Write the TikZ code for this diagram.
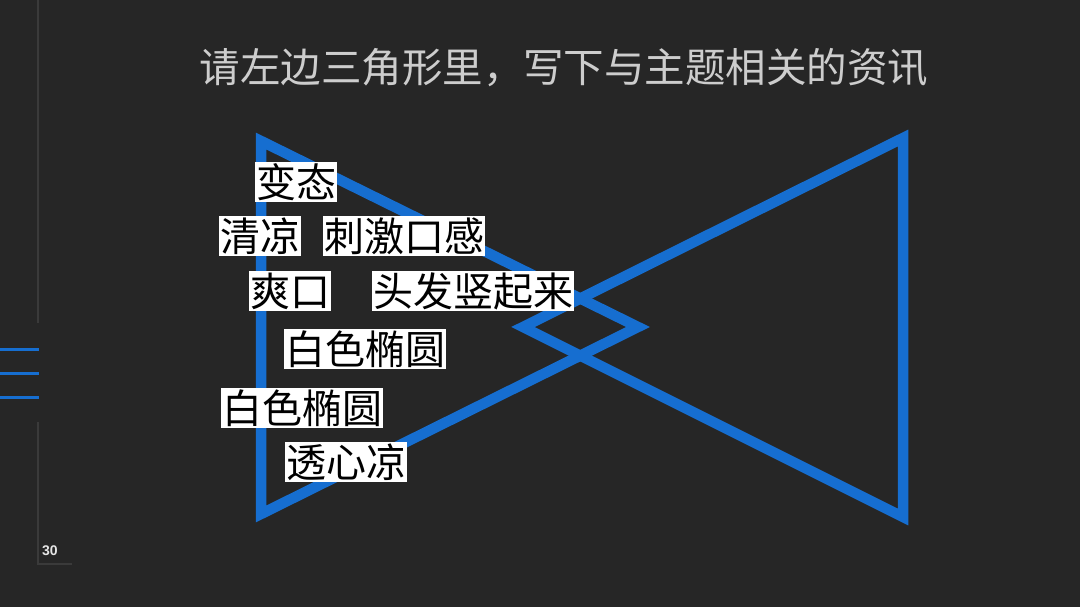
\documentclass[tikz,border=0pt]{standalone}
\usepackage{fontspec}
\setmainfont{Liberation Sans}
\newfontfamily\cjk{Noto Sans CJK SC}
\definecolor{bgc}{RGB}{38,38,38}
\definecolor{triblue}{RGB}{22,110,208}
\definecolor{titlegray}{RGB}{205,205,205}
\definecolor{rulegray}{RGB}{58,58,58}
\definecolor{numc}{RGB}{230,230,230}
\tikzset{
  tri/.style={draw=triblue, line width=10.5pt, line join=miter},
  tag/.style={fill=white, text=black, inner xsep=1pt, inner ysep=0pt, minimum height=40pt, font=\cjk\fontsize{40}{40}\selectfont},
  deco/.style={draw=triblue, line width=3pt},
  faint/.style={draw=rulegray, line width=1.2pt}
}
\begin{document}
\begin{tikzpicture}[x=1pt,y=-1pt]
\fill[bgc] (0,0) rectangle (1080,607);
\useasboundingbox (0,0) rectangle (1080,607);
% left rules
\coordinate (r0) at (38,0);
\coordinate (r1) at (38,323);
\coordinate (r2) at (38,422);
\coordinate (r3) at (38,564);
\coordinate (r4) at (72,564);
\draw[faint] (r0) -- (r1);
\draw[faint] (r2) -- (r3) -- (r4);
\foreach \yy/\nm in {349/a,373/b,397/c}{
  \coordinate (b\nm0) at (0,\yy);
  \coordinate (b\nm1) at (39,\yy);
  \draw[deco] (b\nm0) -- (b\nm1);
}
\node[text=numc, font=\bfseries\fontsize{14}{15}\selectfont, anchor=west, inner sep=0] (pg) at (42,551) {30};
% title
\node[text=titlegray, font=\cjk\fontsize{40.5}{44}\selectfont, inner sep=0] (title) at (564,68) {请左边三角形里，写下与主题相关的资讯};
% triangles
\coordinate (L1) at (261,141);
\coordinate (L2) at (261,514);
\coordinate (L3) at (638,327);
\coordinate (R1) at (903,138);
\coordinate (R2) at (903,517);
\coordinate (R3) at (523,327);
\draw[tri] (L1) -- (L3) -- (L2) -- cycle;
\draw[tri] (R1) -- (R3) -- (R2) -- cycle;
% tags
\node[tag] (t1) at (296,182) {变态};
\node[tag] (t2) at (260,236) {清凉};
\node[tag] (t3) at (404,236) {刺激口感};
\node[tag] (t4) at (290,291) {爽口};
\node[tag] (t5) at (473,291) {头发竖起来};
\node[tag] (t6) at (365,349) {白色椭圆};
\node[tag] (t7) at (302,408) {白色椭圆};
\node[tag] (t8) at (346,462) {透心凉};
\end{tikzpicture}
\end{document}
